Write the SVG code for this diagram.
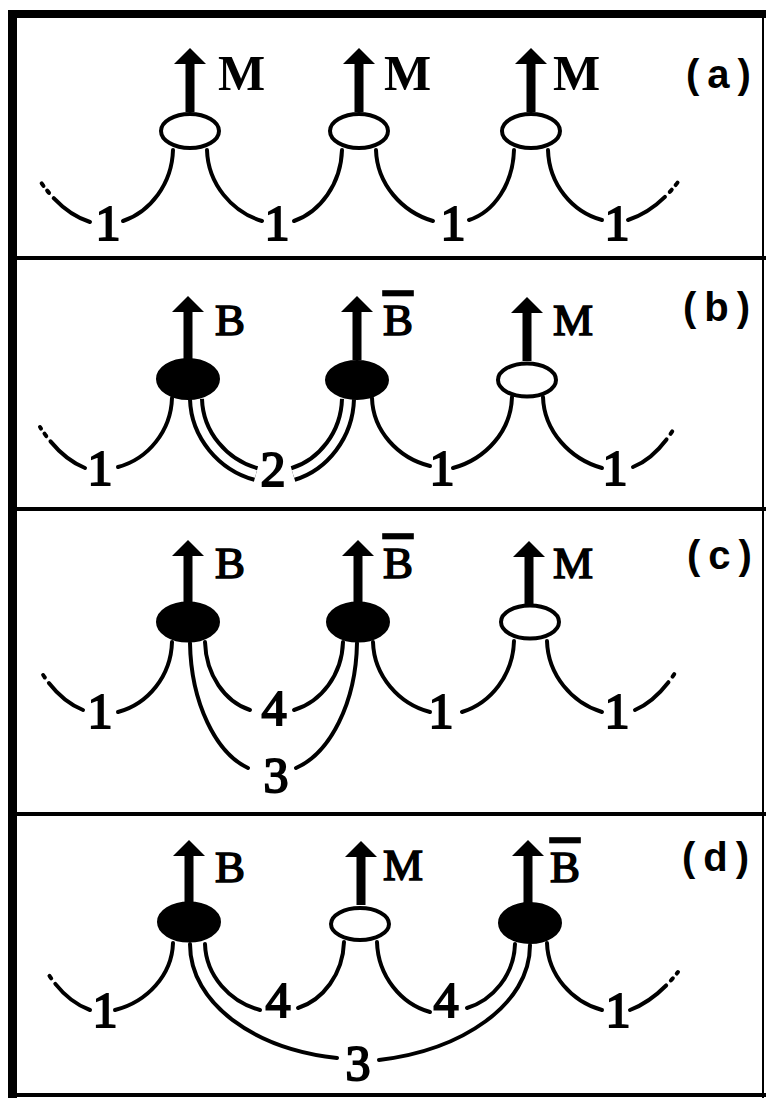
<svg xmlns="http://www.w3.org/2000/svg" xmlns:xlink="http://www.w3.org/1999/xlink" width="766" height="1098" viewBox="0 0 766 1098">
  <style>
    .frame { stroke: #000; fill: none; }
    .link { stroke: #000; stroke-width: 4; fill: none; stroke-linecap: round; }
    .dbl-outer { stroke: #000; stroke-width: 16; fill: none; }
    .dbl-inner { stroke: #fff; stroke-width: 8; fill: none; }
    .stub { stroke: #000; stroke-width: 4; fill: none; stroke-linecap: round; stroke-dasharray: 44 7 3 6 3 100; }
    .open { fill: #fff; stroke: #000; stroke-width: 4; }
    .solid { fill: #000; stroke: #000; stroke-width: 2; }
    .spin { font-family: "Liberation Serif", "Times New Roman", serif; font-size: 45px; fill: #000; stroke: #000; stroke-width: 1.6px; }
    .spin-a { font-family: "Liberation Serif", "Times New Roman", serif; font-size: 50px; font-weight: bold; fill: #000; }
    .bar { text-decoration: overline; }
    .num { font-family: "Liberation Serif", "Times New Roman", serif; font-size: 50px; fill: #000; stroke: #000; stroke-width: 2px; text-anchor: middle; }
    .tag { font-family: "Liberation Sans", Arial, sans-serif; font-size: 40px; font-weight: bold; letter-spacing: 8px; fill: #000; }
  </style>
  <defs>
    <!-- up arrow: tip at origin, shaft reaching down to the bead -->
    <g id="arrow">
      <polygon points="0,0 16,16 -16,16" fill="#000"/>
      <rect x="-4.5" y="14" width="9" height="50" fill="#000"/>
    </g>
  </defs>

  <rect x="0" y="0" width="766" height="1098" fill="#fff"/>

  <!-- outer frame and panel dividers -->
  <g id="frame">
    <line class="frame" x1="8" y1="14" x2="766" y2="14" stroke-width="8"/>
    <line class="frame" x1="12.5" y1="10" x2="12.5" y2="1098" stroke-width="9"/>
    <line class="frame" x1="763" y1="10" x2="763" y2="1098" stroke-width="2"/>
    <line class="frame" x1="12" y1="258" x2="766" y2="258" stroke-width="4"/>
    <line class="frame" x1="12" y1="509" x2="766" y2="509" stroke-width="4"/>
    <line class="frame" x1="12" y1="814" x2="766" y2="814" stroke-width="4"/>
    <line class="frame" x1="12" y1="1095" x2="766" y2="1095" stroke-width="4"/>
  </g>

  <!-- connectors: string links between beads -->
  <g id="connectors">
    <!-- (a) -->
    <path class="stub" d="M90,222 Q62,213 40,181"/>
    <path class="link" d="M173,150 C172,184 150,212 123,221"/>
    <path class="link" d="M207,150 C208,184 232,212 262,221"/>
    <path class="link" d="M342,150 C341,184 320,212 294,221"/>
    <path class="link" d="M376,150 C377,184 402,212 433,221"/>
    <path class="link" d="M514,150 C513,184 494,212 469,220"/>
    <path class="link" d="M548,150 C549,184 572,212 602,220"/>
    <path class="stub" d="M628,220 Q656,211 678,182"/>

    <!-- (b) -->
    <path class="stub" d="M85,468 Q60,458 40,427"/>
    <path class="link" d="M172,398 C171,431 148,459 118,467"/>
    <path class="dbl-outer" d="M196,399 C197,435 223,465 256,474"/>
    <path class="dbl-inner" d="M196,399 C197,435 223,465 256,474"/>
    <path class="dbl-outer" d="M348,399 C347,435 323,465 293,474"/>
    <path class="dbl-inner" d="M348,399 C347,435 323,465 293,474"/>
    <path class="link" d="M372,398 C373,431 398,458 430,466"/>
    <path class="link" d="M512,397 C511,431 486,459 453,468"/>
    <path class="link" d="M543,397 C544,431 570,459 602,468"/>
    <path class="stub" d="M633,467 Q656,458 675,427"/>

    <!-- (c) -->
    <path class="stub" d="M83,710 Q58,700 40,670"/>
    <path class="link" d="M172,642 C171,676 148,704 118,712"/>
    <path class="link" d="M190,643 C191,703 216,753 248,768"/>
    <path class="link" d="M205,642 C206,675 225,702 250,710"/>
    <path class="link" d="M343,642 C342,675 321,702 294,710"/>
    <path class="link" d="M357,643 C356,703 330,753 296,768"/>
    <path class="link" d="M373,642 C374,676 399,704 430,712"/>
    <path class="link" d="M514,641 C513,675 491,703 462,712"/>
    <path class="link" d="M547,641 C548,675 572,703 602,712"/>
    <path class="stub" d="M635,710 Q658,700 677,670"/>

    <!-- (d) -->
    <path class="stub" d="M90,1010 Q65,1001 47,972"/>
    <path class="link" d="M173,943 C172,975 147,1002 115,1010"/>
    <path class="link" d="M190,944 C190,1004 255,1049 337,1058"/>
    <path class="link" d="M205,944 C206,976 230,1002 260,1010"/>
    <path class="link" d="M344,942 C343,974 323,1000 298,1008"/>
    <path class="link" d="M377,942 C378,976 401,1004 430,1012"/>
    <path class="link" d="M515,944 C514,975 493,1000 467,1008"/>
    <path class="link" d="M530,945 C530,1005 462,1050 379,1060"/>
    <path class="link" d="M547,943 C548,975 572,1002 602,1010"/>
    <path class="stub" d="M630,1010 Q656,1000 678,972"/>
  </g>

  <!-- link weights -->
  <g id="weights">
    <text class="num" x="108" y="240">1</text>
    <text class="num" x="277" y="240">1</text>
    <text class="num" x="453" y="240">1</text>
    <text class="num" x="617" y="240">1</text>

    <text class="num" x="100" y="485">1</text>
    <text class="num" x="273" y="486">2</text>
    <text class="num" x="442" y="485">1</text>
    <text class="num" x="615" y="485">1</text>

    <text class="num" x="100" y="728">1</text>
    <text class="num" x="274" y="725">4</text>
    <text class="num" x="276" y="792">3</text>
    <text class="num" x="441" y="728">1</text>
    <text class="num" x="617" y="728">1</text>

    <text class="num" x="105" y="1027">1</text>
    <text class="num" x="278" y="1017">4</text>
    <text class="num" x="446" y="1017">4</text>
    <text class="num" x="358" y="1080">3</text>
    <text class="num" x="618" y="1027">1</text>
  </g>

  <!-- panel (a) -->
  <g id="a-m1">
    <use xlink:href="#arrow" x="190" y="48"/>
    <ellipse class="open" cx="190" cy="131" rx="29" ry="17"/>
    <text class="spin-a" x="218" y="90">M</text>
  </g>
  <g id="a-m2">
    <use xlink:href="#arrow" x="359" y="48"/>
    <ellipse class="open" cx="359" cy="131" rx="29" ry="17"/>
    <text class="spin-a" x="384" y="90">M</text>
  </g>
  <g id="a-m3">
    <use xlink:href="#arrow" x="531" y="48"/>
    <ellipse class="open" cx="531" cy="131" rx="29" ry="17"/>
    <text class="spin-a" x="553" y="90">M</text>
  </g>
  <text id="tag-a" class="tag" x="686" y="88">(a)</text>

  <!-- panel (b) -->
  <g id="b-b">
    <use xlink:href="#arrow" x="188" y="296"/>
    <ellipse class="solid" cx="188" cy="379" rx="31" ry="20"/>
    <text class="spin" x="215" y="335">B</text>
  </g>
  <g id="b-bbar">
    <use xlink:href="#arrow" x="357" y="296"/>
    <ellipse class="solid" cx="357" cy="380" rx="31" ry="19"/>
    <text class="spin bar" x="383" y="335">B</text>
  </g>
  <g id="b-m">
    <use xlink:href="#arrow" x="527" y="297"/>
    <ellipse class="open" cx="527" cy="380" rx="29" ry="16.5"/>
    <text class="spin" x="553" y="335">M</text>
  </g>
  <text id="tag-b" class="tag" x="683" y="321">(b)</text>

  <!-- panel (c) -->
  <g id="c-b">
    <use xlink:href="#arrow" x="188" y="540"/>
    <ellipse class="solid" cx="188" cy="622" rx="31" ry="19.5"/>
    <text class="spin" x="215" y="578">B</text>
  </g>
  <g id="c-bbar">
    <use xlink:href="#arrow" x="358" y="540"/>
    <ellipse class="solid" cx="358" cy="622" rx="31" ry="19.5"/>
    <text class="spin bar" x="383" y="578">B</text>
  </g>
  <g id="c-m">
    <use xlink:href="#arrow" x="529" y="541"/>
    <ellipse class="open" cx="530" cy="622" rx="29" ry="16.5"/>
    <text class="spin" x="553" y="578">M</text>
  </g>
  <text id="tag-c" class="tag" x="687" y="569">(c)</text>

  <!-- panel (d) -->
  <g id="d-b">
    <use xlink:href="#arrow" x="189" y="840"/>
    <ellipse class="solid" cx="189" cy="922" rx="31" ry="19.5"/>
    <text class="spin" x="215" y="882">B</text>
  </g>
  <g id="d-m">
    <use xlink:href="#arrow" x="361" y="841"/>
    <ellipse class="open" cx="360" cy="924" rx="29" ry="16"/>
    <text class="spin" x="383" y="880">M</text>
  </g>
  <g id="d-bbar">
    <use xlink:href="#arrow" x="528" y="840"/>
    <ellipse class="solid" cx="530" cy="923" rx="31" ry="20"/>
    <text class="spin bar" x="550" y="882">B</text>
  </g>
  <text id="tag-d" class="tag" x="682" y="871">(d)</text>
</svg>
